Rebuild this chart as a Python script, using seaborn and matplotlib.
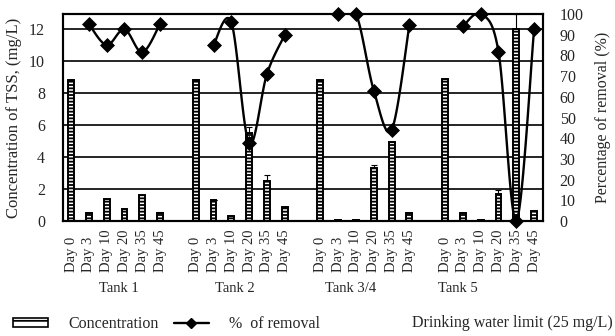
import numpy as np
import pandas as pd
import matplotlib
matplotlib.use("Agg")
import matplotlib.pyplot as plt
from matplotlib.patches import Patch
from matplotlib.lines import Line2D
import seaborn as sns

# ---- data ---------------------------------------------------------------
tanks = ["Tank 1", "Tank 2", "Tank 3/4", "Tank 5"]
days = ["Day 0", "Day 3", "Day 10", "Day 20", "Day 35", "Day 45"]

# TSS concentration (mg/L), one list per tank, ordered by day
conc_tank1 = [8.83, 0.52, 1.36, 0.73, 1.63, 0.48]
conc_tank2 = [8.83, 1.31, 0.31, 5.53, 2.50, 0.90]
conc_tank34 = [8.83, 0.05, 0.05, 3.30, 4.93, 0.48]
conc_tank5 = [8.87, 0.48, 0.05, 1.67, 12.00, 0.65]

# standard deviation of the concentration
sd_tank1 = [0.0, 0.0, 0.0, 0.0, 0.0, 0.10]
sd_tank2 = [0.0, 0.0, 0.0, 0.37, 0.38, 0.0]
sd_tank34 = [0.0, 0.0, 0.0, 0.20, 0.0, 0.0]
sd_tank5 = [0.0, 0.0, 0.0, 0.27, 0.96, 0.0]

# removal efficiency (%), no value on Day 0
rem_tank1 = [np.nan, 95.2, 85.0, 92.6, 81.5, 95.2]
rem_tank2 = [np.nan, 85.0, 96.0, 37.5, 71.0, 89.9]
rem_tank34 = [np.nan, 100.0, 100.0, 63.0, 44.0, 94.7]
rem_tank5 = [np.nan, 94.0, 100.0, 81.8, 0.0, 92.6]

conc = [conc_tank1, conc_tank2, conc_tank34, conc_tank5]
sd = [sd_tank1, sd_tank2, sd_tank34, sd_tank5]
removal = [rem_tank1, rem_tank2, rem_tank34, rem_tank5]

# ---- long table, with one empty slot between tanks -------------------------
slots_per_tank = len(days) + 1
rows = []
for ti, tank in enumerate(tanks):
    for di, day in enumerate(days):
        rows.append({
            "tank": tank,
            "day": day,
            "pos": ti * slots_per_tank + di,
            "conc": conc[ti][di],
            "sd": sd[ti][di],
            "removal": removal[ti][di],
        })
df = pd.DataFrame(rows)

# ---- style ----------------------------------------------------------------
sns.set_style("white")
plt.rcParams["font.family"] = ["Liberation Serif", "DejaVu Serif"]
plt.rcParams["hatch.linewidth"] = 1.3

fig = plt.figure(figsize=(6.15, 3.36), dpi=100)
ax = fig.add_axes([63 / 615, 1 - 221 / 336, 480 / 615, 207 / 336])

sns.barplot(data=df, x="pos", y="conc", native_scale=True, width=0.33,
            color="white", edgecolor="black", linewidth=1.4, hatch="-----",
            errorbar=None, ax=ax, zorder=2)
ax.errorbar(df["pos"], df["conc"], yerr=[np.zeros(len(df)), df["sd"]],
            fmt="none", ecolor="black", elinewidth=0.8, capsize=2.5,
            capthick=0.8, zorder=3)

ax.set_xlim(-0.45, df["pos"].max() + 0.5)
ax.set_ylim(0, 12.95)
ax.set_yticks(np.arange(0, 13, 2))
ax.yaxis.grid(True, color="black", linewidth=1.2)
ax.set_axisbelow(True)
ax.set_xticks(df["pos"])
ax.set_xticklabels(df["day"], rotation=90, fontsize=10.5)
for lab in ax.get_xticklabels():
    lab.set_verticalalignment("bottom")
ax.tick_params(axis="x", length=0, pad=37)
ax.tick_params(axis="y", length=0, pad=13, labelsize=11.5)
ax.set_xlabel("")
ax.set_ylabel("Concentration of TSS, (mg/L)", fontsize=12, labelpad=5)
for s in ax.spines.values():
    s.set_color("black")
    s.set_linewidth(1.5)


# ---- removal curve (smoothed) on secondary axis ----------------------------
def smooth_curve(x, y, n=30):
    pts = np.column_stack([x, y])
    ext = np.vstack([pts[0], pts, pts[-1]])
    out = []
    for i in range(len(pts) - 1):
        p0, p1, p2, p3 = ext[i], ext[i + 1], ext[i + 2], ext[i + 3]
        c1 = p1 + (p2 - p0) / 6.0
        c2 = p2 - (p3 - p1) / 6.0
        t = np.linspace(0, 1, n)[:, None]
        seg = ((1 - t) ** 3) * p1 + 3 * ((1 - t) ** 2) * t * c1 \
            + 3 * (1 - t) * t ** 2 * c2 + t ** 3 * p2
        out.append(seg if i == 0 else seg[1:])
    out = np.vstack(out)
    return out[:, 0], out[:, 1]


ax2 = ax.twinx()
for tank in tanks:
    sub = df[(df["tank"] == tank) & df["removal"].notna()]
    sx, sy = smooth_curve(sub["pos"].to_numpy(float),
                          sub["removal"].to_numpy(float))
    ax2.plot(sx, sy, color="black", linewidth=1.7, zorder=4)
    sns.scatterplot(x=sub["pos"], y=sub["removal"], marker="D", s=50,
                    color="black", edgecolor="black", ax=ax2, zorder=5,
                    clip_on=False)
ax2.set_ylim(0, 100)
ax2.set_yticks(np.arange(0, 101, 10))
ax2.tick_params(axis="y", length=0, pad=12, labelsize=11.5)
ax2.set_ylabel("Percentage of removal (%)", fontsize=11.5, labelpad=8)
for s in ax2.spines.values():
    s.set_color("black")
    s.set_linewidth(1.5)

# ---- tank names ---------------------------------------------------------
tank_label_x = [119, 235, 351, 458]
for name, px in zip(tanks, tank_label_x):
    fig.text(px / 615, 1 - 288 / 336, name, ha="center", va="center",
             fontsize=10.5)

# ---- legends --------------------------------------------------------------
h_conc = Patch(facecolor="white", edgecolor="black", hatch="--",
               linewidth=1.2)
h_rem = Line2D([], [], color="black", linewidth=1.7, marker="D",
               markersize=5.5)
fig.legend([h_conc, h_rem], ["Concentration", "%  of removal"],
           loc="center left", bbox_to_anchor=(13 / 615, 1 - 324 / 336),
           ncol=2, frameon=False, fontsize=11.5, handlelength=2.2,
           handleheight=0.55, handletextpad=1.25, columnspacing=0.95,
           borderaxespad=0, borderpad=0)
h_lim = Line2D([], [], color="none")
fig.legend([h_lim], ["Drinking water limit (25 mg/L)"],
           loc="center right", bbox_to_anchor=(613 / 615, 1 - 323 / 336),
           frameon=False, fontsize=11.5, handlelength=0, handletextpad=0,
           borderaxespad=0, borderpad=0)

fig.savefig("out.png", dpi=100)
